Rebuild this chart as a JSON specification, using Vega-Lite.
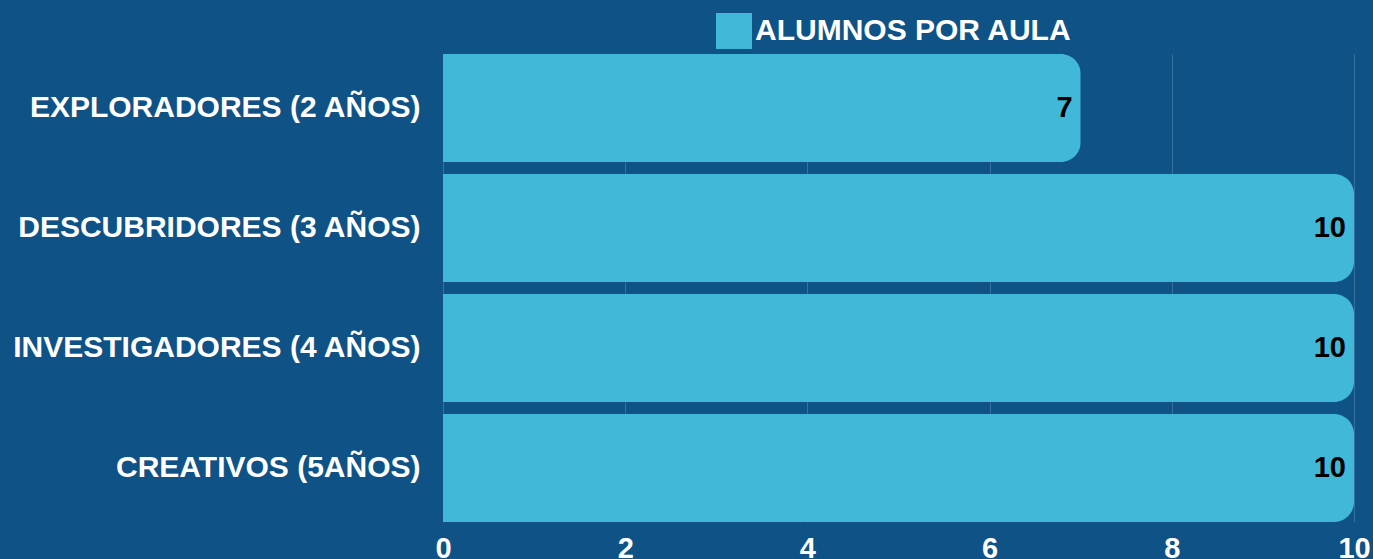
{
  "$schema": "https://vega.github.io/schema/vega-lite/v6.json",
  "width": 911,
  "height": 468,
  "autosize": {"type": "none"},
  "padding": {"left": 443, "top": 54, "right": 19, "bottom": 37},
  "background": "#0f5286",
  "config": {
    "view": {"stroke": null},
    "font": "Liberation Sans"
  },
  "data": {
    "values": [
      {"aula": "EXPLORADORES (2 AÑOS)", "alumnos": 7, "serie": "ALUMNOS POR AULA"},
      {"aula": "DESCUBRIDORES (3 AÑOS)", "alumnos": 10, "serie": "ALUMNOS POR AULA"},
      {"aula": "INVESTIGADORES (4 AÑOS)", "alumnos": 10, "serie": "ALUMNOS POR AULA"},
      {"aula": "CREATIVOS (5AÑOS)", "alumnos": 10, "serie": "ALUMNOS POR AULA"}
    ]
  },
  "encoding": {
    "y": {
      "field": "aula",
      "type": "nominal",
      "sort": null,
      "scale": {"paddingInner": 0.1, "paddingOuter": 0},
      "axis": {
        "title": null,
        "ticks": false,
        "domain": false,
        "labelColor": "#ffffff",
        "labelFont": "Liberation Sans",
        "labelFontWeight": "bold",
        "labelFontSize": 30,
        "labelPadding": 23,
        "labelLimit": 500
      }
    },
    "x": {
      "field": "alumnos",
      "type": "quantitative",
      "scale": {"domain": [0, 10], "nice": false},
      "axis": {
        "title": null,
        "values": [0, 2, 4, 6, 8, 10],
        "ticks": false,
        "domain": false,
        "grid": true,
        "gridColor": "#ffffff",
        "gridOpacity": 0.18,
        "gridWidth": 1,
        "labelColor": "#ffffff",
        "labelFont": "Liberation Sans",
        "labelFontWeight": "bold",
        "labelFontSize": 29,
        "labelPadding": 12,
        "labelBaseline": "top",
        "labelFlush": false
      }
    }
  },
  "layer": [
    {
      "mark": {"type": "bar", "cornerRadiusEnd": 20},
      "encoding": {
        "color": {
          "field": "serie",
          "type": "nominal",
          "scale": {"range": ["#41b8d8"]},
          "legend": {
            "title": null,
            "orient": "none",
            "legendX": 273,
            "legendY": -41,
            "symbolType": "square",
            "symbolSize": 1296,
            "symbolStrokeWidth": 0,
            "symbolOpacity": 1,
            "labelColor": "#ffffff",
            "labelFont": "Liberation Sans",
            "labelFontWeight": "bold",
            "labelFontSize": 30,
            "labelOffset": 3,
            "labelLimit": 500
          }
        }
      }
    },
    {
      "mark": {
        "type": "text",
        "align": "right",
        "baseline": "middle",
        "dx": -8,
        "color": "#000000",
        "font": "Liberation Sans",
        "fontWeight": "bold",
        "fontSize": 29
      },
      "encoding": {
        "text": {"field": "alumnos", "type": "quantitative"}
      }
    }
  ]
}
